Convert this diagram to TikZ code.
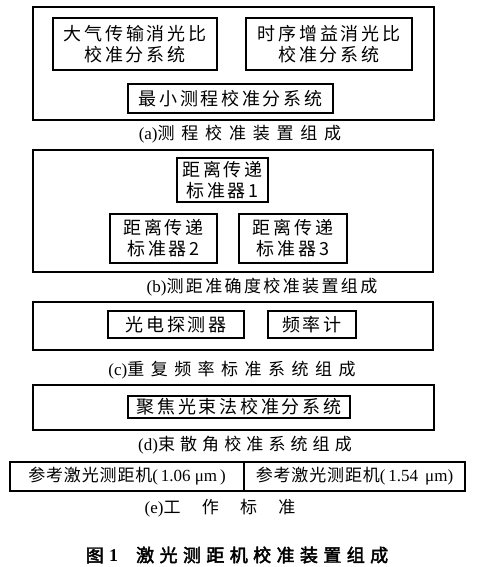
\documentclass[tikz,border=0pt]{standalone}
\usepackage{fontspec}
\setmainfont{Liberation Serif}
\newfontfamily\cjk[LetterSpace=15]{Noto Sans CJK SC}
\newfontfamily\cjkplain[LetterSpace=5]{Noto Sans CJK SC}
\newfontfamily\cjkA[LetterSpace=40]{Noto Sans CJK SC}
\newfontfamily\cjkB[LetterSpace=14]{Noto Sans CJK SC}
\newfontfamily\cjkC[LetterSpace=38]{Noto Sans CJK SC}
\newfontfamily\cjkD[LetterSpace=30]{Noto Sans CJK SC}
\newfontfamily\cjkE[LetterSpace=125]{Noto Sans CJK SC}
\newfontfamily\cjkbold[FakeBold=2.5,LetterSpace=30]{Noto Sans CJK SC}
\begin{document}
\begin{tikzpicture}[x=1pt,y=-1pt,
  outer/.style={draw,line width=1.3pt,inner sep=0pt},
  inbox/.style={draw,line width=1.3pt,inner sep=0pt,align=center,font=\fontsize{18}{21}\selectfont},
  captext/.style={inner sep=0pt,font=\fontsize{17}{20}\selectfont}]
\useasboundingbox (0,0) rectangle (484,567);
% (a)
\node[outer,minimum width=401pt,minimum height=113pt] (A) at (233.5,63.5) {};
\node[inbox,minimum width=164pt,minimum height=52pt] (a1) at (135,44) {\cjk 大气传输消光比\\\cjk 校准分系统};
\node[inbox,minimum width=166pt,minimum height=52pt] (a2) at (329,44) {\cjk 时序增益消光比\\\cjk 校准分系统};
\node[inbox,minimum width=205pt,minimum height=29pt] (a3) at (230.5,98.5) {\cjk 最小测程校准分系统};
\node[captext] (capa) at (240,134) {(a)\cjkA 测程校准装置组成};
% (b)
\node[outer,minimum width=400pt,minimum height=122pt] (B) at (233,211) {};
\node[inbox,minimum width=91pt,minimum height=44pt] (b1) at (222.5,180) {\cjk 距离传递\\\cjk 标准器1};
\node[inbox,minimum width=107pt,minimum height=49pt] (b2) at (163.5,238.5) {\cjk 距离传递\\\cjk 标准器2};
\node[inbox,minimum width=108pt,minimum height=49pt] (b3) at (293,238.5) {\cjk 距离传递\\\cjk 标准器3};
\node[captext] (capb) at (262,287) {(b)\cjkB 测距准确度校准装置组成};
% (c)
\node[outer,minimum width=400pt,minimum height=48pt] (C) at (233,326) {};
\node[inbox,minimum width=136pt,minimum height=27pt] (c1) at (176,324.5) {\cjk 光电探测器};
\node[inbox,minimum width=88pt,minimum height=27pt] (c2) at (312,324.5) {\cjk 频率计};
\node[captext] (capc) at (232,370) {(c)\cjkC 重复频率标准系统组成};
% (d)
\node[outer,minimum width=401pt,minimum height=45pt] (D) at (233.5,407.5) {};
\node[inbox,minimum width=222pt,minimum height=22pt] (d1) at (239,407) {\cjk 聚焦光束法校准分系统};
\node[captext] (capd) at (245,445) {(d)\cjkD 束散角校准系统组成};
% (e)
\node[inbox,minimum width=234pt,minimum height=29pt,font=\fontsize{17}{20}\selectfont] (e1) at (127,476.5) {{\cjkplain 参考激光测距机}(\,1.06 μm\,)};
\node[inbox,minimum width=221pt,minimum height=29pt,font=\fontsize{17}{20}\selectfont] (e2) at (354.5,476.5) {{\cjkplain 参考激光测距机}(\,1.54 \,μm)};
\node[captext] (cape) at (220,508) {(e)\cjkE 工作标准};
% figure caption
\node[inner sep=0pt,font=\fontsize{18}{21}\selectfont] (fig) at (237,555) {{\cjkbold 图}\textbf{1}\hspace{18pt}{\cjkbold 激光测距机校准装置组成}};
\end{tikzpicture}
\end{document}
